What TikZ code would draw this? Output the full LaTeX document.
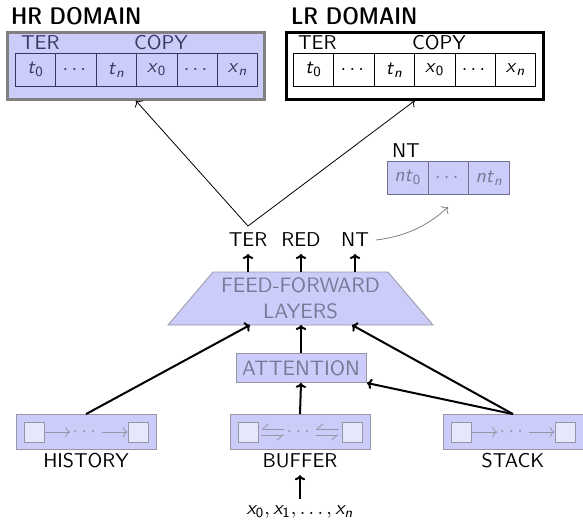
\documentclass[tikz,border=0pt]{standalone}
\usepackage{amsmath, amssymb}
\usetikzlibrary{arrows.meta}
\renewcommand{\familydefault}{\sfdefault}
\definecolor{boxfill}{RGB}{204,204,250}
\definecolor{boxline}{RGB}{150,150,165}
\definecolor{fadetext}{RGB}{120,120,150}
\definecolor{darktext}{RGB}{55,55,95}
\definecolor{sqfill}{RGB}{230,230,252}
\newcommand{\sv}[2]{\textit{#1}\textsubscript{#2}}

\begin{document}
\begin{tikzpicture}[x=0.5pt, y=-0.5pt, >={To[length=2.5pt]},
  cell/.style={draw, minimum width=20.2pt, minimum height=16.5pt, inner sep=0pt, anchor=north west},
  inbox/.style={fill=boxfill, draw=boxline, minimum width=70pt, minimum height=17.5pt, inner sep=0pt},
  sq/.style={fill=sqfill, draw=boxline, minimum size=10pt, inner sep=0pt},
  title/.style={font=\large\fontseries{sbc}\selectfont, anchor=west},
  barb/.style={boxline, -{Straight Barb[harpoon, swap, length=3pt, width=5pt]}},
  thickarr/.style={->, line width=1pt}]
\useasboundingbox (0,0) rectangle (583,521);

% output domains
\node[title] (hrtitle) at (4,16) {HR DOMAIN};
\node[title] (lrtitle) at (284,16) {LR DOMAIN};
\node[fill=boxfill, draw=gray, line width=1.3pt, minimum width=128.5pt, minimum height=33.5pt, anchor=north west] (hr) at (6,31) {};
\node[fill=white, draw=black, line width=1.3pt, minimum width=128.5pt, minimum height=33.5pt, anchor=north west] (lr) at (285,31) {};
\node[darktext, anchor=west] (hrter) at (14,43) {TER};
\node[darktext] (hrcopy) at (161,43) {COPY};
\node[anchor=west] (lrter) at (291,43) {TER};
\node (lrcopy) at (439,43) {COPY};
\foreach \t [count=\i from 0] in {\sv{t}{0}, $\cdots$, \sv{t}{\textit{n}}, \sv{x}{0}, $\cdots$, \sv{x}{\textit{n}}}{
\node[cell, draw=darktext, text=darktext] (hr\i) at (15+\i*40.4, 53) {\t};
\node[cell] (lr\i) at (293+\i*40.4, 53) {\t};
}

% NT buffer
\node[anchor=west] (nttitle) at (385,151) {NT};
\foreach \t [count=\i from 0] in {\textit{nt}\textsubscript{0}, $\cdots$, \textit{nt}\textsubscript{\textit{n}}}{
\node[cell, fill=boxfill, draw=darktext!70, text=fadetext, minimum width=20.35pt] (nt\i) at (387+\i*40.7, 161) {\t};
}

% outputs
\node (ter) at (248,240) {TER};
\node (red) at (301,240) {RED};
\node (ntout) at (355,240) {NT};
\draw[->, thin] (ter.north) -- (hr.south);
\draw[->, thin] (ter.north) -- (lr.south);
\draw[->, gray] (ntout.east) .. controls (410,236) and (432,222) .. (448,207);

% feed-forward layers
\coordinate (fftl) at (213,272);
\coordinate (fftr) at (388,272);
\coordinate (ffbr) at (433,325);
\coordinate (ffbl) at (168,325);
\draw[fill=boxfill, draw=boxline] (fftl) -- (fftr) -- (ffbr) -- (ffbl) -- cycle;
\node[text=fadetext, align=center, font=\fontsize{10.4}{12}\selectfont, inner sep=0pt] (ff) at (300.5,298) {FEED-FORWARD\\[1pt]LAYERS};
\foreach \o in {ter, red, ntout}{
\draw[thickarr] (\o.south |- fftl) -- (\o.south);
}

\node[inbox, minimum width=65pt, minimum height=14.5pt, text=fadetext, font=\fontsize{10.4}{12}\selectfont] (att) at (301,368) {ATTENTION};
\draw[thickarr] (att.north) -- (att.north |- ffbl);

% history, buffer, stack
\node[inbox] (hist) at (86,432) {};
\node[inbox] (buf) at (300,432) {};
\node[inbox] (stack) at (513,432) {};
\node (histlab) at (86,461) {HISTORY};
\node (buflab) at (300,461) {BUFFER};
\node (stacklab) at (513,461) {STACK};
\foreach \b in {hist, stack}{
\node[sq, anchor=west] (\b sq1) at ([xshift=4pt]\b.west) {};
\node[sq, anchor=east] (\b sq2) at ([xshift=-4pt]\b.east) {};
\node[text=boxline, inner sep=0pt] (\b dots) at (\b) {$\cdots$};
\draw[->, boxline] (\b sq1.east) -- ([xshift=-1pt]\b dots.west);
\draw[->, boxline] ([xshift=1pt]\b dots.east) -- (\b sq2.west);
}
\node[sq, anchor=west] (bufsq1) at ([xshift=4pt]buf.west) {};
\node[sq, anchor=east] (bufsq2) at ([xshift=-4pt]buf.east) {};
\node[text=boxline, inner sep=0pt] (bufdots) at (buf) {$\cdots$};
\draw[barb] ([shift={(-1pt,1.5pt)}]bufdots.west) -- ([shift={(1.5pt,1.5pt)}]bufsq1.east);
\draw[barb] ([shift={(1.5pt,-1.5pt)}]bufsq1.east) -- ([shift={(-1pt,-1.5pt)}]bufdots.west);
\draw[barb] ([shift={(-1.5pt,1.5pt)}]bufsq2.west) -- ([shift={(1pt,1.5pt)}]bufdots.east);
\draw[barb] ([shift={(1pt,-1.5pt)}]bufdots.east) -- ([shift={(-1.5pt,-1.5pt)}]bufsq2.west);

\coordinate (ffin1) at (250,325);
\coordinate (ffin3) at (352,325);
\coordinate (attin) at (367,383);
\draw[thickarr] (hist.north) -- (ffin1);
\draw[thickarr] (stack.north) -- (ffin3);
\draw[thickarr] (stack.north) -- (attin);
\draw[thickarr] (buf.north) -- (att.south);

\node (input) at (300,512) {$\textit{x}_{\textsf{0}}, \textit{x}_{\textsf{1}}, \ldots, \textit{x}_{\textit{n}}$};
\draw[thickarr] (input.north) -- (buflab.south);
\end{tikzpicture}
\end{document}
